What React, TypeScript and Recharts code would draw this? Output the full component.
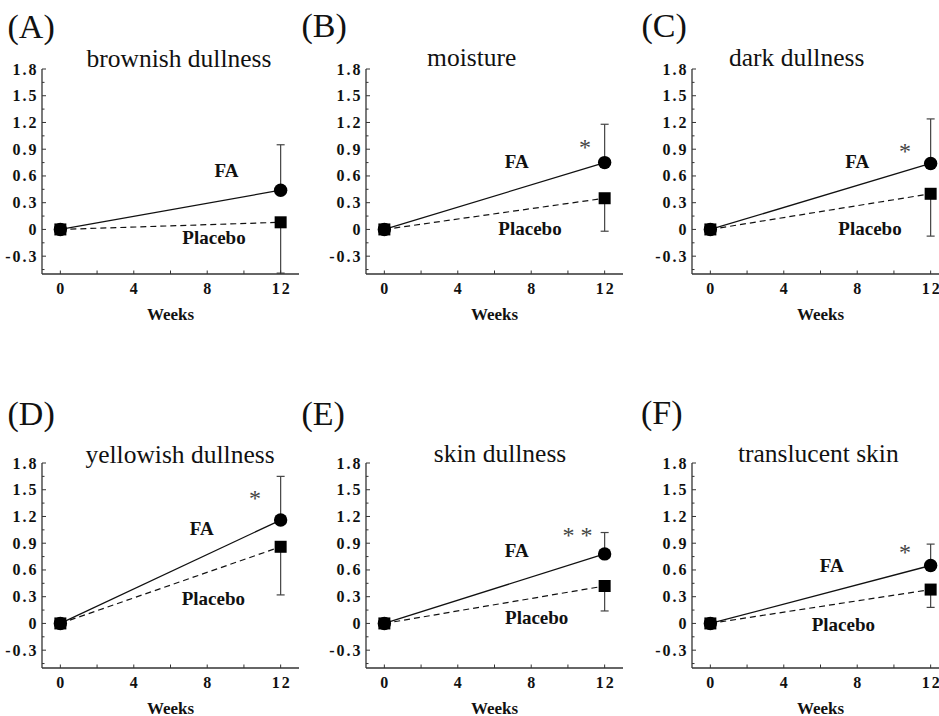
import React from 'react';
import { LineChart, Line, XAxis, YAxis, ErrorBar } from 'recharts';

// ---------------- data ----------------
const WEEKS = [0, 12];
const PANEL_LETTERS = ['(A)', '(B)', '(C)', '(D)', '(E)', '(F)'];
const PANEL_TITLES = [
  'brownish dullness',
  'moisture',
  'dark dullness',
  'yellowish dullness',
  'skin dullness',
  'translucent skin',
];
// mean change from baseline at week 0 and week 12
const FA_MEAN = [
  [0, 0.44],
  [0, 0.75],
  [0, 0.74],
  [0, 1.16],
  [0, 0.78],
  [0, 0.65],
];
const FA_UPPER = [0.95, 1.18, 1.24, 1.65, 1.02, 0.89]; // top of FA error bar at week 12
const PLACEBO_MEAN = [
  [0, 0.08],
  [0, 0.35],
  [0, 0.4],
  [0, 0.86],
  [0, 0.42],
  [0, 0.38],
];
const PLACEBO_LOWER = [-0.49, -0.02, -0.075, 0.32, 0.14, 0.18]; // bottom of placebo error bar
const SIGNIFICANCE = ['', '*', '*', '*', '* *', '*'];
const SERIES_LABELS = ['FA', 'Placebo'];
const X_AXIS_LABEL = 'Weeks';

const X_TICK_LABELS = ['0', '4', '8', '12'];
const X_MINOR_TICKS = [2, 6, 10];
const Y_TICK_LABELS = ['-0.3', '0', '0.3', '0.6', '0.9', '1.2', '1.5', '1.8'];
const Y_MINOR_TICKS = [-0.45, -0.15, 0.15, 0.45, 0.75, 1.05, 1.35, 1.65];

// ---------------- layout / style ----------------
const FONT = '"Liberation Serif", "Times New Roman", Times, serif';
const X_MAJOR = X_TICK_LABELS.map(Number);
const Y_MAJOR = Y_TICK_LABELS.map(Number);
const X_TICKS = [...X_MAJOR, ...X_MINOR_TICKS].sort((a, b) => a - b);
const Y_TICKS = [...Y_MAJOR, ...Y_MINOR_TICKS].sort((a, b) => a - b);

const CHART_W = 307;
const CHART_H = 324;
const Y_AXIS_W = 45;

// chart top-left corners (page coordinates)
const PANEL_POS = [
  { left: -3.3, top: 0 },
  { left: 320.7, top: 0 },
  { left: 646.7, top: 0 },
  { left: -3.3, top: 393.5 },
  { left: 320.7, top: 393.5 },
  { left: 646.7, top: 393.5 },
];

// annotation positions (page coordinates)
const TEXT_POS = [
  { letter: [7.5, 38], title: [179, 66.5], fa: [226.5, 177], pl: [214, 243.5], star: [0, 0] },
  { letter: [301.5, 37], title: [471.7, 65.7], fa: [516.7, 167.7], pl: [530, 235], star: [585, 155] },
  { letter: [641.5, 37], title: [796.7, 65.7], fa: [857.3, 167.7], pl: [870, 235], star: [905, 159] },
  { letter: [7.5, 425], title: [180, 462.5], fa: [201.7, 535], pl: [213.3, 605], star: [255, 506] },
  { letter: [301.5, 425], title: [500, 461.7], fa: [516.7, 557], pl: [536.7, 623.5], star: [577.5, 543] },
  { letter: [641, 424], title: [818.3, 461.7], fa: [831.7, 572], pl: [843.3, 631], star: [905, 560] },
];

const isIn = (list: number[], v: number) => list.some((m) => Math.abs(m - v) < 1e-6);

function YTick(props: any) {
  const { x, y, payload } = props;
  const v = payload.value;
  const major = isIn(Y_MAJOR, v);
  const label = major ? Y_TICK_LABELS[Y_MAJOR.findIndex((m) => Math.abs(m - v) < 1e-6)] : '';
  return (
    <g>
      <line x1={x} x2={x + (major ? 4 : 2.5)} y1={y} y2={y} stroke="#333" strokeWidth={1} />
      {major && (
        <text
          x={x - 3.5}
          y={y}
          textAnchor="end"
          dominantBaseline="central"
          fontFamily={FONT}
          fontWeight="bold"
          fontSize={16}
          letterSpacing={2}
          fill="#111"
        >
          {label}
        </text>
      )}
    </g>
  );
}

function XTick(props: any) {
  const { x, y, payload } = props;
  const v = payload.value;
  const major = isIn(X_MAJOR, v);
  const label = major ? X_TICK_LABELS[X_MAJOR.findIndex((m) => Math.abs(m - v) < 1e-6)] : '';
  return (
    <g>
      <line x1={x} x2={x} y1={y} y2={y - 3.5} stroke="#333" strokeWidth={1} />
      {major && (
        <text
          x={x + 1}
          y={y + 14.5}
          textAnchor="middle"
          dominantBaseline="central"
          fontFamily={FONT}
          fontWeight="bold"
          fontSize={16}
          letterSpacing={2}
          fill="#111"
        >
          {label}
        </text>
      )}
    </g>
  );
}

const circleDot = (p: any) => (
  <circle key={`c${p.index}`} cx={p.cx} cy={p.cy} r={6.7} fill="#000" />
);
const squareDot = (p: any) => (
  <rect key={`s${p.index}`} x={p.cx - 6} y={p.cy - 6} width={12} height={12} fill="#000" />
);

function Panel({ i }: { i: number }) {
  const data = WEEKS.map((w, k) => ({
    week: w,
    fa: FA_MEAN[i][k],
    pl: PLACEBO_MEAN[i][k],
    faErr: k === 1 ? [0, FA_UPPER[i] - FA_MEAN[i][k]] : undefined,
    plErr: k === 1 ? [PLACEBO_MEAN[i][k] - PLACEBO_LOWER[i], 0] : undefined,
  }));
  const pos = PANEL_POS[i];
  return (
    <div style={{ position: 'absolute', left: pos.left, top: pos.top }}>
      <LineChart
        width={CHART_W}
        height={CHART_H}
        data={data}
        margin={{ top: 69, right: 5, bottom: 0, left: 0 }}
      >
        <XAxis
          dataKey="week"
          type="number"
          domain={[-1, 13]}
          ticks={X_TICKS}
          interval={0}
          allowDataOverflow
          tickLine={false}
          tickSize={0}
          tickMargin={0}
          tick={<XTick />}
          axisLine={{ stroke: '#333', strokeWidth: 1.3 }}
          height={50}
          label={{
            value: X_AXIS_LABEL,
            position: 'insideBottom',
            offset: 4,
            style: { fontFamily: FONT, fontWeight: 'bold', fontSize: 17, fill: '#111' },
          }}
        />
        <YAxis
          type="number"
          domain={[-0.5, 1.8]}
          ticks={Y_TICKS}
          interval={0}
          allowDataOverflow
          tickLine={false}
          tickSize={0}
          tickMargin={0}
          tick={<YTick />}
          axisLine={{ stroke: '#333', strokeWidth: 1.3 }}
          width={Y_AXIS_W}
        />
        <Line
          dataKey="fa"
          type="linear"
          stroke="#111"
          strokeWidth={1.3}
          dot={circleDot}
          activeDot={false}
          isAnimationActive={false}
        >
          <ErrorBar dataKey="faErr" direction="y" width={4} stroke="#444" strokeWidth={1.2} />
        </Line>
        <Line
          dataKey="pl"
          type="linear"
          stroke="#111"
          strokeWidth={1.2}
          strokeDasharray="6 4"
          dot={squareDot}
          activeDot={false}
          isAnimationActive={false}
        >
          <ErrorBar dataKey="plErr" direction="y" width={4} stroke="#444" strokeWidth={1.2} />
        </Line>
      </LineChart>
    </div>
  );
}

export default function App() {
  return (
    <div
      style={{
        position: 'absolute',
        left: 0,
        top: 0,
        width: 939,
        height: 716,
        overflow: 'hidden',
        background: '#fff',
      }}
    >
      {PANEL_TITLES.map((_, i) => (
        <Panel key={i} i={i} />
      ))}
      <svg
        width={939}
        height={716}
        style={{ position: 'absolute', left: 0, top: 0, pointerEvents: 'none' }}
      >
        {TEXT_POS.map((t, i) => (
          <g key={i} fontFamily={FONT} fill="#111">
            <text x={t.letter[0]} y={t.letter[1]} fontSize={34}>
              {PANEL_LETTERS[i]}
            </text>
            <text x={t.title[0]} y={t.title[1]} fontSize={25.5} textAnchor="middle">
              {PANEL_TITLES[i]}
            </text>
            <text x={t.fa[0]} y={t.fa[1]} fontSize={19} fontWeight="bold" textAnchor="middle">
              {SERIES_LABELS[0]}
            </text>
            <text x={t.pl[0]} y={t.pl[1]} fontSize={19} fontWeight="bold" textAnchor="middle">
              {SERIES_LABELS[1]}
            </text>
            {SIGNIFICANCE[i] && (
              <text
                x={t.star[0]}
                y={t.star[1]}
                fontSize={24}
                textAnchor="middle"
                fill="#444"
                style={{ whiteSpace: 'pre' }}
              >
                {SIGNIFICANCE[i]}
              </text>
            )}
          </g>
        ))}
      </svg>
    </div>
  );
}
